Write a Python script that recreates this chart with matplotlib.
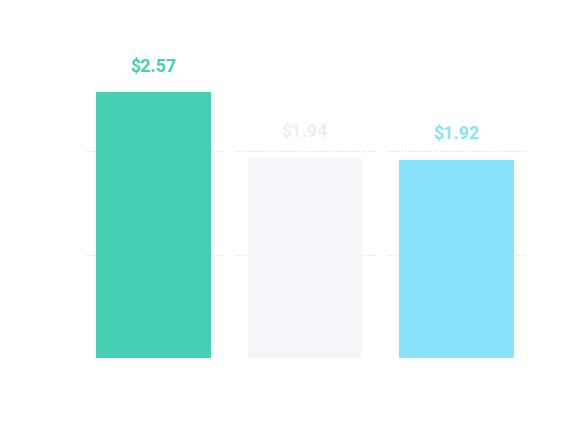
import matplotlib.pyplot as plt

categories = ["A", "B", "C"]
values = [2.57, 1.94, 1.92]
colors = ["#45cfb4", "#f5f6fa", "#87e3f9"]
label_colors = ["#45cfb4", "#eceef2", "#87e3f9"]
grid_values = [1.0, 2.0]

plt.rcParams["font.family"] = ["Roboto", "DejaVu Sans"]

fig = plt.figure(figsize=(5.87, 4.23), dpi=100)
ax = fig.add_axes([78 / 587, 65 / 423, 454 / 587, 310 / 423])

x = list(range(len(categories)))
for g in grid_values:
    for xi in x:
        ax.plot([xi - 0.455, xi + 0.455], [g, g], ls=(0, (1, 2)), lw=0.7,
                color="#d6d8dc", zorder=0)

ax.bar(x, values, width=0.756, color=colors, zorder=2)
for xi, v, c in zip(x, values, label_colors):
    ax.text(xi, v + 0.16, f"${v:.2f}", ha="center", va="bottom",
            color=c, fontsize=13, fontweight="bold")

ax.set_xlim(-0.5, len(categories) - 0.5)
ax.set_ylim(0, 3.0)
ax.axis("off")
fig.savefig("out.png", dpi=100)
